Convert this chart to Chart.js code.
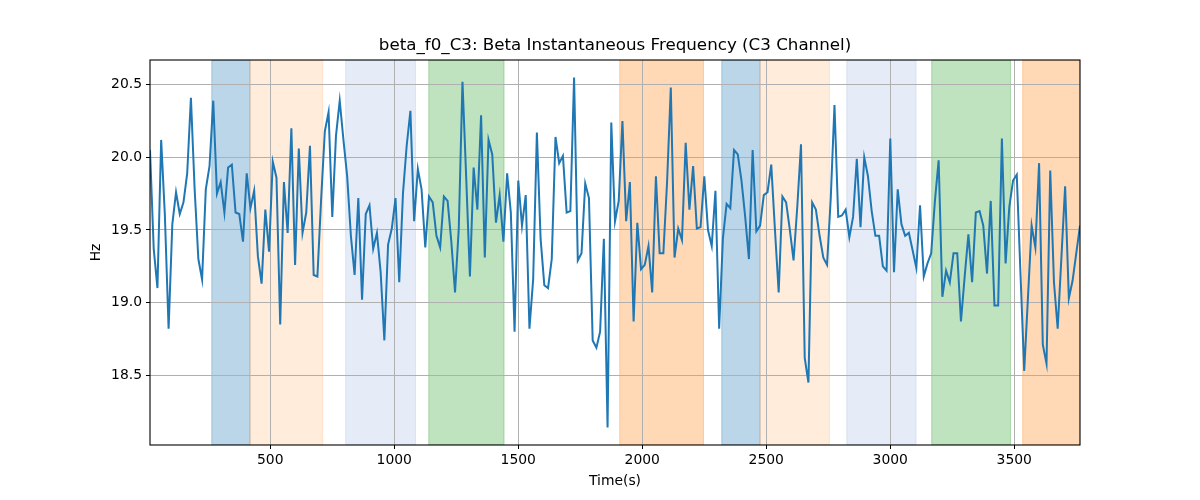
<!DOCTYPE html>
<html><head><meta charset="utf-8">
<script src="https://cdn.jsdelivr.net/npm/chart.js@4.4.1/dist/chart.umd.min.js"></script>
<style>html,body{margin:0;padding:0;background:#fff;} #wrap{width:1200px;height:500px;}</style>
</head><body><div id="wrap"><canvas id="c" width="1200" height="500"></canvas></div>
<script>
const chartTitle = 'beta_f0_C3: Beta Instantaneous Frequency (C3 Channel)';
const xLabel = 'Time(s)';
const yLabel = 'Hz';
const sampleStart = 15;   // s, first sample time
const sampleStep = 15;    // s, sampling interval
const freqHz = [
20.05,19.37,19.10,20.12,19.60,18.82,19.54,19.76,19.61,19.69,
19.89,20.41,19.78,19.30,19.16,19.78,19.94,20.39,19.75,19.83,
19.62,19.93,19.95,19.62,19.61,19.42,19.89,19.65,19.77,19.32,
19.13,19.64,19.35,19.97,19.86,18.85,19.83,19.48,20.20,19.26,
20.06,19.48,19.62,20.08,19.19,19.18,19.71,20.18,20.31,19.59,
20.15,20.39,20.12,19.87,19.46,19.19,19.72,19.02,19.61,19.67,
19.37,19.48,19.21,18.74,19.40,19.51,19.72,19.14,19.75,20.08,
20.32,19.56,19.92,19.78,19.38,19.73,19.69,19.46,19.38,19.73,
19.70,19.42,19.07,19.51,20.52,19.86,19.18,19.93,19.64,20.29,
19.31,20.12,20.02,19.55,19.74,19.42,19.89,19.62,18.80,19.84,
19.53,19.74,18.82,19.16,20.17,19.44,19.12,19.10,19.30,20.14,
19.96,20.01,19.62,19.63,20.55,19.29,19.34,19.82,19.72,18.74,
18.69,18.80,19.44,18.14,20.24,19.56,19.70,20.25,19.56,19.83,
18.87,19.55,19.23,19.26,19.39,19.07,19.87,19.34,19.34,19.83,
20.48,19.31,19.51,19.43,20.10,19.64,19.94,19.51,19.52,19.87,
19.50,19.39,19.77,18.82,19.44,19.68,19.65,20.05,20.02,19.84,
19.59,19.30,20.05,19.49,19.53,19.74,19.76,19.95,19.50,19.07,
19.73,19.69,19.50,19.29,19.66,20.09,18.62,18.45,19.69,19.64,
19.46,19.31,19.26,19.72,20.36,19.59,19.60,19.64,19.45,19.59,
19.99,19.52,20.00,19.87,19.63,19.46,19.46,19.25,19.22,20.13,
19.21,19.78,19.54,19.46,19.48,19.36,19.24,19.67,19.18,19.27,
19.34,19.70,19.98,19.04,19.22,19.14,19.34,19.34,18.87,19.18,
19.47,19.14,19.62,19.63,19.53,19.20,19.70,18.98,18.98,20.13,
19.27,19.66,19.84,19.88,19.20,18.53,19.03,19.53,19.38,19.96,
18.71,18.58,19.91,19.14,18.82,19.31,19.80,19.03,19.15,19.34,
19.53
];
const xTickValues = [500,1000,1500,2000,2500,3000,3500];
const yTickValues = [18.5,19.0,19.5,20.0,20.5];
const bandStart = [264, 418.5, 804, 1139, 1909, 2320.5, 2475, 2824.6, 3167, 3534];
const bandEnd   = [418.5, 711.7, 1085.5, 1442.7, 2246.8, 2475, 2754.8, 3104, 3484.7, 3765];
const bandColor = [
  'rgba(31,119,180,0.3)', 'rgba(255,127,14,0.15)', 'rgba(100,140,210,0.17)', 'rgba(44,160,44,0.3)', 'rgba(255,127,14,0.3)',
  'rgba(31,119,180,0.3)', 'rgba(255,127,14,0.15)', 'rgba(100,140,210,0.17)', 'rgba(44,160,44,0.3)', 'rgba(255,127,14,0.3)'
];

const times = freqHz.map((_, i) => sampleStart + i * sampleStep);
const points = freqHz.map((v, i) => ({x: times[i], y: v}));
const FONT = "'DejaVu Sans', sans-serif";

const decor = {
  id: 'decor',
  beforeDraw(chart) {
    const {ctx, chartArea: a, scales: {x}} = chart;
    ctx.save();
    ctx.fillStyle = '#fff';
    ctx.fillRect(0, 0, chart.width, chart.height);
    ctx.beginPath();
    ctx.rect(a.left, a.top, a.right - a.left, a.bottom - a.top);
    ctx.clip();
    for (let i = 0; i < bandStart.length; i++) {
      const x0 = x.getPixelForValue(bandStart[i]);
      const x1 = x.getPixelForValue(bandEnd[i]);
      ctx.fillStyle = bandColor[i];
      ctx.fillRect(x0, a.top, x1 - x0, a.bottom - a.top);
      ctx.strokeStyle = bandColor[i];
      ctx.lineWidth = 1;
      ctx.strokeRect(x0, a.top, x1 - x0, a.bottom - a.top);
    }
    ctx.restore();
  },
  afterDatasetsDraw(chart) {
    const {ctx, chartArea: a} = chart;
    ctx.save();
    ctx.strokeStyle = '#000';
    ctx.lineWidth = 1.1;
    ctx.strokeRect(a.left, a.top, a.right - a.left, a.bottom - a.top);
    ctx.restore();
  },
  afterDraw(chart) {
    const {ctx, chartArea: a} = chart;
    ctx.save();
    ctx.fillStyle = '#000';
    ctx.textAlign = 'center';
    ctx.textBaseline = 'middle';
    ctx.font = `16.7px ${FONT}`;
    ctx.fillText(chartTitle, (a.left + a.right) / 2, 46);
    ctx.font = `13.9px ${FONT}`;
    ctx.fillText(xLabel, (a.left + a.right) / 2, 481);
    ctx.translate(96, (a.top + a.bottom) / 2);
    ctx.rotate(-Math.PI / 2);
    ctx.fillText(yLabel, 0, 0);
    ctx.restore();
  }
};

new Chart(document.getElementById('c'), {
  type: 'line',
  data: {
    datasets: [{
      data: points,
      borderColor: '#1f77b4',
      borderWidth: 2,
      pointRadius: 0,
      tension: 0,
      fill: false
    }]
  },
  options: {
    responsive: false,
    animation: false,
    devicePixelRatio: 1,
    layout: {padding: {top: 60, right: 120, left: 0, bottom: 0}},
    plugins: {legend: {display: false}, title: {display: false}, tooltip: {enabled: false}},
    scales: {
      x: {
        type: 'linear',
        min: times[0],
        max: times[times.length - 1],
        afterBuildTicks: s => { s.ticks = xTickValues.map(v => ({value: v})); },
        afterFit: s => { s.height = 55; },
        ticks: {color: '#000', font: {family: FONT, size: 13.9}, padding: 3, maxRotation: 0, autoSkip: false, callback: v => String(v)},
        grid: {color: '#b0b0b0', lineWidth: 1, tickColor: '#000', tickLength: 4, tickWidth: 1},
        border: {display: false}
      },
      y: {
        type: 'linear',
        min: 18.02,
        max: 20.67,
        afterBuildTicks: s => { s.ticks = yTickValues.map(v => ({value: v})); },
        afterFit: s => { s.width = 150; },
        ticks: {color: '#000', font: {family: FONT, size: 13.9}, padding: 4, autoSkip: false, callback: v => v.toFixed(1)},
        grid: {color: '#b0b0b0', lineWidth: 1, tickColor: '#000', tickLength: 4, tickWidth: 1},
        border: {display: false}
      }
    }
  },
  plugins: [decor]
});
</script>
</body></html>
